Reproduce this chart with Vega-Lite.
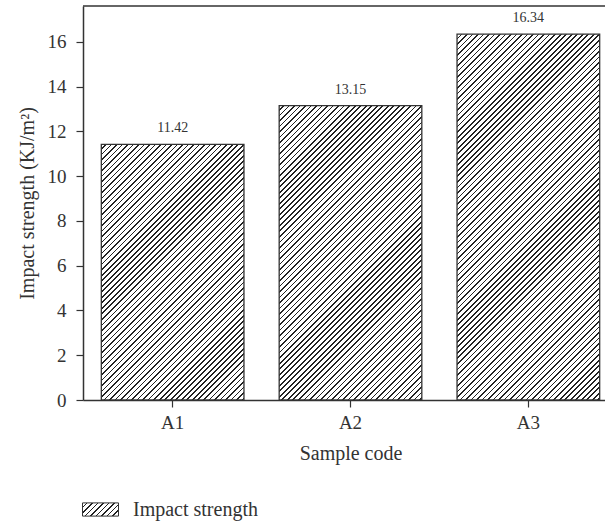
{
 "$schema": "https://vega.github.io/schema/vega-lite/v6.json",
 "autosize": {"type": "none"},
 "padding": {"left": 83, "top": 6, "right": 0, "bottom": 122},
 "width": 522,
 "height": 394,
 "background": "white",
 "config": {
  "view": {"stroke": null},
  "font": "Liberation Serif",
  "axis": {"domainColor": "#333", "domainWidth": 1.5, "tickColor": "#333", "tickWidth": 1.2, "labelColor": "#333", "titleColor": "#333", "labelFont": "Liberation Serif", "titleFont": "Liberation Serif", "labelFontSize": 19, "titleFontSize": 20, "titleFontWeight": "normal", "grid": false}
 },
 "data": {"values": [{"code": "A1", "Impact": 11.42}, {"code": "A2", "Impact": 13.15}, {"code": "A3", "Impact": 16.34}]},
 "layer": [
  {
   "mark": {"type": "bar", "strokeWidth": 1.3, "fill": {"expr": "({gradient:'linear',x1:0,y1:0,x2:isNumber(datum.Impact)?551.5*bandwidth('x')/(pow(bandwidth('x'),2)+pow(scale('y',0)-scale('y',datum.Impact),2)):13.5,y2:isNumber(datum.Impact)?551.5*(scale('y',0)-scale('y',datum.Impact))/(pow(bandwidth('x'),2)+pow(scale('y',0)-scale('y',datum.Impact),2)):4.95,stops:[{offset:0,color:'#fff'},{offset:0.007,color:'#fff'},{offset:0.007,color:'#222'},{offset:0.01,color:'#222'},{offset:0.01,color:'#fff'},{offset:0.017,color:'#fff'},{offset:0.017,color:'#222'},{offset:0.02,color:'#222'},{offset:0.02,color:'#fff'},{offset:0.027,color:'#fff'},{offset:0.027,color:'#222'},{offset:0.03,color:'#222'},{offset:0.03,color:'#fff'},{offset:0.037,color:'#fff'},{offset:0.037,color:'#222'},{offset:0.04,color:'#222'},{offset:0.04,color:'#fff'},{offset:0.047,color:'#fff'},{offset:0.047,color:'#222'},{offset:0.05,color:'#222'},{offset:0.05,color:'#fff'},{offset:0.057,color:'#fff'},{offset:0.057,color:'#222'},{offset:0.06,color:'#222'},{offset:0.06,color:'#fff'},{offset:0.067,color:'#fff'},{offset:0.067,color:'#222'},{offset:0.07,color:'#222'},{offset:0.07,color:'#fff'},{offset:0.077,color:'#fff'},{offset:0.077,color:'#222'},{offset:0.08,color:'#222'},{offset:0.08,color:'#fff'},{offset:0.087,color:'#fff'},{offset:0.087,color:'#222'},{offset:0.09,color:'#222'},{offset:0.09,color:'#fff'},{offset:0.097,color:'#fff'},{offset:0.097,color:'#222'},{offset:0.10,color:'#222'},{offset:0.10,color:'#fff'},{offset:0.107,color:'#fff'},{offset:0.107,color:'#222'},{offset:0.11,color:'#222'},{offset:0.11,color:'#fff'},{offset:0.117,color:'#fff'},{offset:0.117,color:'#222'},{offset:0.12,color:'#222'},{offset:0.12,color:'#fff'},{offset:0.127,color:'#fff'},{offset:0.127,color:'#222'},{offset:0.13,color:'#222'},{offset:0.13,color:'#fff'},{offset:0.137,color:'#fff'},{offset:0.137,color:'#222'},{offset:0.14,color:'#222'},{offset:0.14,color:'#fff'},{offset:0.147,color:'#fff'},{offset:0.147,color:'#222'},{offset:0.15,color:'#222'},{offset:0.15,color:'#fff'},{offset:0.157,color:'#fff'},{offset:0.157,color:'#222'},{offset:0.16,color:'#222'},{offset:0.16,color:'#fff'},{offset:0.167,color:'#fff'},{offset:0.167,color:'#222'},{offset:0.17,color:'#222'},{offset:0.17,color:'#fff'},{offset:0.177,color:'#fff'},{offset:0.177,color:'#222'},{offset:0.18,color:'#222'},{offset:0.18,color:'#fff'},{offset:0.187,color:'#fff'},{offset:0.187,color:'#222'},{offset:0.19,color:'#222'},{offset:0.19,color:'#fff'},{offset:0.197,color:'#fff'},{offset:0.197,color:'#222'},{offset:0.20,color:'#222'},{offset:0.20,color:'#fff'},{offset:0.207,color:'#fff'},{offset:0.207,color:'#222'},{offset:0.21,color:'#222'},{offset:0.21,color:'#fff'},{offset:0.217,color:'#fff'},{offset:0.217,color:'#222'},{offset:0.22,color:'#222'},{offset:0.22,color:'#fff'},{offset:0.227,color:'#fff'},{offset:0.227,color:'#222'},{offset:0.23,color:'#222'},{offset:0.23,color:'#fff'},{offset:0.237,color:'#fff'},{offset:0.237,color:'#222'},{offset:0.24,color:'#222'},{offset:0.24,color:'#fff'},{offset:0.247,color:'#fff'},{offset:0.247,color:'#222'},{offset:0.25,color:'#222'},{offset:0.25,color:'#fff'},{offset:0.257,color:'#fff'},{offset:0.257,color:'#222'},{offset:0.26,color:'#222'},{offset:0.26,color:'#fff'},{offset:0.267,color:'#fff'},{offset:0.267,color:'#222'},{offset:0.27,color:'#222'},{offset:0.27,color:'#fff'},{offset:0.277,color:'#fff'},{offset:0.277,color:'#222'},{offset:0.28,color:'#222'},{offset:0.28,color:'#fff'},{offset:0.287,color:'#fff'},{offset:0.287,color:'#222'},{offset:0.29,color:'#222'},{offset:0.29,color:'#fff'},{offset:0.297,color:'#fff'},{offset:0.297,color:'#222'},{offset:0.30,color:'#222'},{offset:0.30,color:'#fff'},{offset:0.307,color:'#fff'},{offset:0.307,color:'#222'},{offset:0.31,color:'#222'},{offset:0.31,color:'#fff'},{offset:0.317,color:'#fff'},{offset:0.317,color:'#222'},{offset:0.32,color:'#222'},{offset:0.32,color:'#fff'},{offset:0.327,color:'#fff'},{offset:0.327,color:'#222'},{offset:0.33,color:'#222'},{offset:0.33,color:'#fff'},{offset:0.337,color:'#fff'},{offset:0.337,color:'#222'},{offset:0.34,color:'#222'},{offset:0.34,color:'#fff'},{offset:0.347,color:'#fff'},{offset:0.347,color:'#222'},{offset:0.35,color:'#222'},{offset:0.35,color:'#fff'},{offset:0.357,color:'#fff'},{offset:0.357,color:'#222'},{offset:0.36,color:'#222'},{offset:0.36,color:'#fff'},{offset:0.367,color:'#fff'},{offset:0.367,color:'#222'},{offset:0.37,color:'#222'},{offset:0.37,color:'#fff'},{offset:0.377,color:'#fff'},{offset:0.377,color:'#222'},{offset:0.38,color:'#222'},{offset:0.38,color:'#fff'},{offset:0.387,color:'#fff'},{offset:0.387,color:'#222'},{offset:0.39,color:'#222'},{offset:0.39,color:'#fff'},{offset:0.397,color:'#fff'},{offset:0.397,color:'#222'},{offset:0.40,color:'#222'},{offset:0.40,color:'#fff'},{offset:0.407,color:'#fff'},{offset:0.407,color:'#222'},{offset:0.41,color:'#222'},{offset:0.41,color:'#fff'},{offset:0.417,color:'#fff'},{offset:0.417,color:'#222'},{offset:0.42,color:'#222'},{offset:0.42,color:'#fff'},{offset:0.427,color:'#fff'},{offset:0.427,color:'#222'},{offset:0.43,color:'#222'},{offset:0.43,color:'#fff'},{offset:0.437,color:'#fff'},{offset:0.437,color:'#222'},{offset:0.44,color:'#222'},{offset:0.44,color:'#fff'},{offset:0.447,color:'#fff'},{offset:0.447,color:'#222'},{offset:0.45,color:'#222'},{offset:0.45,color:'#fff'},{offset:0.457,color:'#fff'},{offset:0.457,color:'#222'},{offset:0.46,color:'#222'},{offset:0.46,color:'#fff'},{offset:0.467,color:'#fff'},{offset:0.467,color:'#222'},{offset:0.47,color:'#222'},{offset:0.47,color:'#fff'},{offset:0.477,color:'#fff'},{offset:0.477,color:'#222'},{offset:0.48,color:'#222'},{offset:0.48,color:'#fff'},{offset:0.487,color:'#fff'},{offset:0.487,color:'#222'},{offset:0.49,color:'#222'},{offset:0.49,color:'#fff'},{offset:0.497,color:'#fff'},{offset:0.497,color:'#222'},{offset:0.50,color:'#222'},{offset:0.50,color:'#fff'},{offset:0.507,color:'#fff'},{offset:0.507,color:'#222'},{offset:0.51,color:'#222'},{offset:0.51,color:'#fff'},{offset:0.517,color:'#fff'},{offset:0.517,color:'#222'},{offset:0.52,color:'#222'},{offset:0.52,color:'#fff'},{offset:0.527,color:'#fff'},{offset:0.527,color:'#222'},{offset:0.53,color:'#222'},{offset:0.53,color:'#fff'},{offset:0.537,color:'#fff'},{offset:0.537,color:'#222'},{offset:0.54,color:'#222'},{offset:0.54,color:'#fff'},{offset:0.547,color:'#fff'},{offset:0.547,color:'#222'},{offset:0.55,color:'#222'},{offset:0.55,color:'#fff'},{offset:0.557,color:'#fff'},{offset:0.557,color:'#222'},{offset:0.56,color:'#222'},{offset:0.56,color:'#fff'},{offset:0.567,color:'#fff'},{offset:0.567,color:'#222'},{offset:0.57,color:'#222'},{offset:0.57,color:'#fff'},{offset:0.577,color:'#fff'},{offset:0.577,color:'#222'},{offset:0.58,color:'#222'},{offset:0.58,color:'#fff'},{offset:0.587,color:'#fff'},{offset:0.587,color:'#222'},{offset:0.59,color:'#222'},{offset:0.59,color:'#fff'},{offset:0.597,color:'#fff'},{offset:0.597,color:'#222'},{offset:0.60,color:'#222'},{offset:0.60,color:'#fff'},{offset:0.607,color:'#fff'},{offset:0.607,color:'#222'},{offset:0.61,color:'#222'},{offset:0.61,color:'#fff'},{offset:0.617,color:'#fff'},{offset:0.617,color:'#222'},{offset:0.62,color:'#222'},{offset:0.62,color:'#fff'},{offset:0.627,color:'#fff'},{offset:0.627,color:'#222'},{offset:0.63,color:'#222'},{offset:0.63,color:'#fff'},{offset:0.637,color:'#fff'},{offset:0.637,color:'#222'},{offset:0.64,color:'#222'},{offset:0.64,color:'#fff'},{offset:0.647,color:'#fff'},{offset:0.647,color:'#222'},{offset:0.65,color:'#222'},{offset:0.65,color:'#fff'},{offset:0.657,color:'#fff'},{offset:0.657,color:'#222'},{offset:0.66,color:'#222'},{offset:0.66,color:'#fff'},{offset:0.667,color:'#fff'},{offset:0.667,color:'#222'},{offset:0.67,color:'#222'},{offset:0.67,color:'#fff'},{offset:0.677,color:'#fff'},{offset:0.677,color:'#222'},{offset:0.68,color:'#222'},{offset:0.68,color:'#fff'},{offset:0.687,color:'#fff'},{offset:0.687,color:'#222'},{offset:0.69,color:'#222'},{offset:0.69,color:'#fff'},{offset:0.697,color:'#fff'},{offset:0.697,color:'#222'},{offset:0.70,color:'#222'},{offset:0.70,color:'#fff'},{offset:0.707,color:'#fff'},{offset:0.707,color:'#222'},{offset:0.71,color:'#222'},{offset:0.71,color:'#fff'},{offset:0.717,color:'#fff'},{offset:0.717,color:'#222'},{offset:0.72,color:'#222'},{offset:0.72,color:'#fff'},{offset:0.727,color:'#fff'},{offset:0.727,color:'#222'},{offset:0.73,color:'#222'},{offset:0.73,color:'#fff'},{offset:0.737,color:'#fff'},{offset:0.737,color:'#222'},{offset:0.74,color:'#222'},{offset:0.74,color:'#fff'},{offset:0.747,color:'#fff'},{offset:0.747,color:'#222'},{offset:0.75,color:'#222'},{offset:0.75,color:'#fff'},{offset:0.757,color:'#fff'},{offset:0.757,color:'#222'},{offset:0.76,color:'#222'},{offset:0.76,color:'#fff'},{offset:0.767,color:'#fff'},{offset:0.767,color:'#222'},{offset:0.77,color:'#222'},{offset:0.77,color:'#fff'},{offset:0.777,color:'#fff'},{offset:0.777,color:'#222'},{offset:0.78,color:'#222'},{offset:0.78,color:'#fff'},{offset:0.787,color:'#fff'},{offset:0.787,color:'#222'},{offset:0.79,color:'#222'},{offset:0.79,color:'#fff'},{offset:0.797,color:'#fff'},{offset:0.797,color:'#222'},{offset:0.80,color:'#222'},{offset:0.80,color:'#fff'},{offset:0.807,color:'#fff'},{offset:0.807,color:'#222'},{offset:0.81,color:'#222'},{offset:0.81,color:'#fff'},{offset:0.817,color:'#fff'},{offset:0.817,color:'#222'},{offset:0.82,color:'#222'},{offset:0.82,color:'#fff'},{offset:0.827,color:'#fff'},{offset:0.827,color:'#222'},{offset:0.83,color:'#222'},{offset:0.83,color:'#fff'},{offset:0.837,color:'#fff'},{offset:0.837,color:'#222'},{offset:0.84,color:'#222'},{offset:0.84,color:'#fff'},{offset:0.847,color:'#fff'},{offset:0.847,color:'#222'},{offset:0.85,color:'#222'},{offset:0.85,color:'#fff'},{offset:0.857,color:'#fff'},{offset:0.857,color:'#222'},{offset:0.86,color:'#222'},{offset:0.86,color:'#fff'},{offset:0.867,color:'#fff'},{offset:0.867,color:'#222'},{offset:0.87,color:'#222'},{offset:0.87,color:'#fff'},{offset:0.877,color:'#fff'},{offset:0.877,color:'#222'},{offset:0.88,color:'#222'},{offset:0.88,color:'#fff'},{offset:0.887,color:'#fff'},{offset:0.887,color:'#222'},{offset:0.89,color:'#222'},{offset:0.89,color:'#fff'},{offset:0.897,color:'#fff'},{offset:0.897,color:'#222'},{offset:0.90,color:'#222'},{offset:0.90,color:'#fff'},{offset:0.907,color:'#fff'},{offset:0.907,color:'#222'},{offset:0.91,color:'#222'},{offset:0.91,color:'#fff'},{offset:0.917,color:'#fff'},{offset:0.917,color:'#222'},{offset:0.92,color:'#222'},{offset:0.92,color:'#fff'},{offset:0.927,color:'#fff'},{offset:0.927,color:'#222'},{offset:0.93,color:'#222'},{offset:0.93,color:'#fff'},{offset:0.937,color:'#fff'},{offset:0.937,color:'#222'},{offset:0.94,color:'#222'},{offset:0.94,color:'#fff'},{offset:0.947,color:'#fff'},{offset:0.947,color:'#222'},{offset:0.95,color:'#222'},{offset:0.95,color:'#fff'},{offset:0.957,color:'#fff'},{offset:0.957,color:'#222'},{offset:0.96,color:'#222'},{offset:0.96,color:'#fff'},{offset:0.967,color:'#fff'},{offset:0.967,color:'#222'},{offset:0.97,color:'#222'},{offset:0.97,color:'#fff'},{offset:0.977,color:'#fff'},{offset:0.977,color:'#222'},{offset:0.98,color:'#222'},{offset:0.98,color:'#fff'},{offset:0.987,color:'#fff'},{offset:0.987,color:'#222'},{offset:0.99,color:'#222'},{offset:0.99,color:'#fff'},{offset:0.997,color:'#fff'},{offset:0.997,color:'#222'},{offset:1,color:'#222'}]})"}},
   "encoding": {
    "x": {"field": "code", "type": "nominal", "scale": {"range": [0, 535], "paddingInner": 0.198, "paddingOuter": 0.103}, "axis": {"title": "Sample code", "labelAngle": 0, "tickSize": 7, "labelPadding": 6, "titlePadding": 11}},
    "y": {"field": "Impact", "type": "quantitative", "scale": {"domain": [0, 17.6], "nice": false}, "axis": {"title": "Impact strength (KJ/m²)", "values": [0, 1, 2, 3, 4, 5, 6, 7, 8, 9, 10, 11, 12, 13, 14, 15, 16, 17], "tickSize": {"condition": {"test": "datum.value % 2 == 1", "value": 3}, "value": 7}, "labelExpr": "datum.value % 2 == 0 ? datum.label : ''", "labelPadding": 10, "titlePadding": 10}},
    "stroke": {"datum": "Impact strength", "scale": {"range": ["#333"]}, "legend": {"title": null, "orient": "none", "legendX": 5, "legendY": 491, "symbolType": "M-1.5,-0.55H1.5V0.55H-1.5Z", "symbolSize": 576, "symbolStrokeWidth": 1, "labelFont": "Liberation Serif", "labelFontSize": 20, "labelColor": "#333", "labelOffset": 20}}
   }
  },
  {
   "mark": {"type": "text", "baseline": "alphabetic", "dy": -12, "fontSize": 14, "font": "Liberation Serif", "fill": "#333", "color": "#333"},
   "encoding": {
    "x": {"field": "code", "type": "nominal"},
    "y": {"field": "Impact", "type": "quantitative"},
    "text": {"field": "Impact", "type": "quantitative", "format": ".2f"}
   }
  },
  {
   "data": {"values": [{}]},
   "mark": {"type": "rule", "color": "#333", "strokeWidth": 1.5},
   "encoding": {"y": {"datum": 17.6}}
  }
 ]
}
